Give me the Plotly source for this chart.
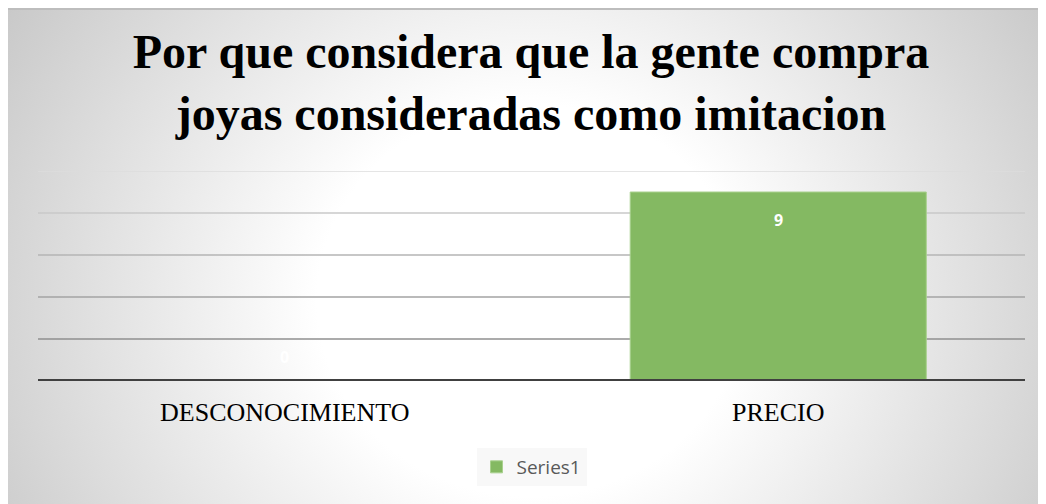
import base64
import plotly.graph_objects as go

categories = ["DESCONOCIMIENTO", "PRECIO"]
values = [0, 9]
series_name = "Series1"
grid_values = [2, 4, 6, 8, 10]
grid_colors = ["#8f8f8f", "#a3a3a3", "#b5b5b5", "#c8c8c8", "#dcdcdc"]

W, H = 1046, 504
ML, MR, MT, MB = 30, 29, 163, 131
PW, PH = W - ML - MR, H - MT - MB

svg = f'''<svg xmlns="http://www.w3.org/2000/svg" width="{W}" height="{H}" viewBox="0 0 {W} {H}" preserveAspectRatio="none">
<defs><radialGradient id="g" cx="0.5" cy="0.58" r="0.62" gradientUnits="objectBoundingBox" gradientTransform="translate(0.5,0.58) scale(1,1.9) translate(-0.5,-0.58)">
<stop offset="0" stop-color="#ffffff"/><stop offset="0.33" stop-color="#ffffff"/><stop offset="1" stop-color="#c4c4c4"/></radialGradient></defs>
<rect x="0" y="0" width="{W}" height="{H}" fill="url(#g)"/>
<rect x="0" y="0" width="{W}" height="2" fill="#bdbdbd"/>
</svg>'''
src = "data:image/svg+xml;base64," + base64.b64encode(svg.encode()).decode()

fig = go.Figure()
fig.add_trace(go.Bar(
    x=categories, y=values, name=series_name, width=0.6,
    marker=dict(color="#84b962", line=dict(color="#a9d18e", width=1)),
    showlegend=True,
))

for c, v in zip(categories, values):
    fig.add_annotation(
        x=c, y=v, xref="x", yref="y", text=f"<b>{v}</b>", showarrow=False,
        yanchor="top" if v > 0 else "bottom",
        yshift=-15 if v > 0 else 11,
        font=dict(family="Open Sans, Liberation Sans, sans-serif", size=16, color="white"),
    )

for gv, gc in zip(grid_values, grid_colors):
    fig.add_shape(type="line", xref="paper", yref="y", x0=0, x1=1, y0=gv, y1=gv,
                  line=dict(color=gc, width=1.5), layer="below")

fig.add_shape(type="line", xref="paper", yref="y", x0=0, x1=1, y0=0, y1=0,
              line=dict(color="#404040", width=4), layer="above")

fig.add_layout_image(dict(
    source=src, xref="paper", yref="paper",
    x=-ML / PW, y=(PH + MT) / PH,
    sizex=W / PW, sizey=H / PH,
    xanchor="left", yanchor="top", sizing="stretch", layer="below",
))

fig.update_layout(
    width=W, height=H,
    margin=dict(l=ML, r=MR, t=MT, b=MB, autoexpand=False),
    paper_bgcolor="white", plot_bgcolor="rgba(0,0,0,0)",
    title=dict(
        text="<b>Por que considera que la gente compra<br>joyas consideradas como imitacion</b>",
        x=0.5, xanchor="center", y=1 - 60 / H, yanchor="top", yref="container",
        font=dict(family="Liberation Serif, Times New Roman, serif", size=48, color="black"),
    ),
    xaxis=dict(showgrid=False, showline=False, zeroline=False, ticks="",
               tickfont=dict(family="Liberation Serif, Times New Roman, serif", size=26, color="black"),
               ticklabelstandoff=13),
    yaxis=dict(range=[0, 10], showgrid=False, zeroline=False, showticklabels=False, showline=False),
    legend=dict(orientation="h", x=0.5, xanchor="center", y=(MT + PH - 459) / PH, yanchor="middle",
                font=dict(family="Open Sans, Liberation Sans, sans-serif", size=19, color="#595959"),
                bgcolor="rgba(245,245,245,0.7)"),
    bargap=0.4,
)

fig.write_html("out.html")
